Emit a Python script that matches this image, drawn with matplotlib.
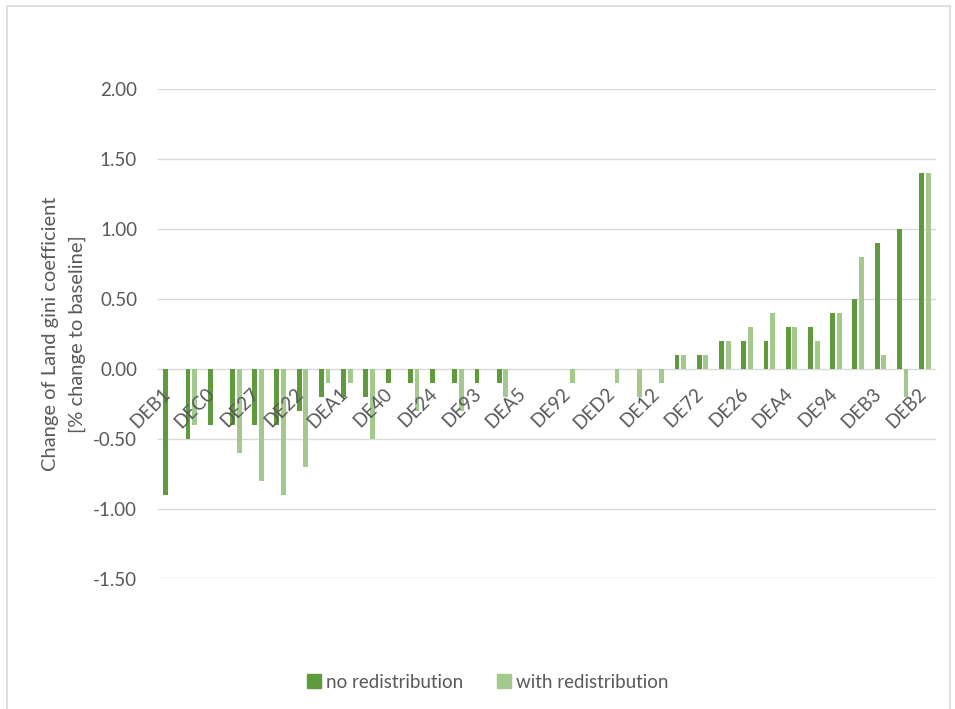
import matplotlib
matplotlib.use("Agg")
import matplotlib.pyplot as plt
from matplotlib.patches import Patch, Rectangle
import numpy as np

plt.rcParams['font.family'] = ['Lato', 'DejaVu Sans']
plt.rcParams['axes.unicode_minus'] = False

# Category labels (only every other category is labelled in the chart)
labels = ["DEB1", "", "DEC0", "", "DE27", "", "DE22", "", "DEA1", "", "DE40", "",
          "DE24", "", "DE93", "", "DEA5", "", "DE92", "", "DED2", "", "DE12", "",
          "DE72", "", "DE26", "", "DEA4", "", "DE94", "", "DEB3", "", "DEB2"]

no_redistribution = [-0.9, -0.5, -0.4, -0.4, -0.4, -0.4, -0.3, -0.2, -0.2, -0.2, -0.1, -0.1,
                     -0.1, -0.1, -0.1, -0.1, 0.0, 0.0, 0.0, 0.0, 0.0, 0.0, 0.0, 0.1,
                     0.1, 0.2, 0.2, 0.2, 0.3, 0.3, 0.4, 0.5, 0.9, 1.0, 1.4]

with_redistribution = [0.0, -0.4, 0.0, -0.6, -0.8, -0.9, -0.7, -0.1, -0.1, -0.5, 0.0, -0.3,
                       0.0, -0.3, 0.0, -0.2, 0.0, 0.0, -0.1, 0.0, -0.1, -0.2, -0.1, 0.1,
                       0.1, 0.2, 0.3, 0.4, 0.3, 0.2, 0.4, 0.8, 0.1, -0.2, 1.4]

series_names = ["no redistribution", "with redistribution"]
yticks = [-1.5, -1.0, -0.5, 0.0, 0.5, 1.0, 1.5, 2.0]

dark = "#5F9B3C"
light = "#A3C98C"
grid_c = "#D9D9D9"
text_c = "#595959"
fs = 13.5

W, H = 955, 709
fig = plt.figure(figsize=(W / 100, H / 100), dpi=100)
ax = fig.add_axes([158 / W, 1 - 579 / H, (936 - 158) / W, 490 / H])

x = np.arange(1, len(labels) + 1)
bw = 0.22
ax.bar(x - 0.15, no_redistribution, width=bw, color=dark, zorder=3)
ax.bar(x + 0.15, with_redistribution, width=bw, color=light, zorder=3)

ax.set_xlim(0.5, len(labels) + 0.5)
ax.set_ylim(min(yticks), max(yticks))
ax.set_yticks(yticks)
ax.set_yticklabels([f"{v:.2f}" for v in yticks], fontsize=fs, color=text_c)
ax.grid(axis='y', color=grid_c, linewidth=1.0, zorder=0)
for s in ax.spines.values():
    s.set_visible(False)
ax.tick_params(axis='y', length=0, pad=15)
ax.tick_params(axis='x', length=0)

ax.set_xticks([])
for xi, lab in zip(x, labels):
    if lab:
        ax.annotate(lab, xy=(xi, 0), xytext=(-5.5, -11.5), textcoords='offset points',
                    rotation=45, ha='right', va='top', rotation_mode='anchor',
                    fontsize=fs, color=text_c)

fig.text(64 / W, 1 - 334 / H,
         "Change of Land gini coefficient\n[% change to baseline]",
         rotation=90, ha='center', va='center', multialignment='center',
         fontsize=14.5, color=text_c, linespacing=1.75)

handles = [Patch(color=dark, label=series_names[0]), Patch(color=light, label=series_names[1])]
fig.legend(handles=handles, loc='center', bbox_to_anchor=(488 / W, 1 - 682 / H),
           ncol=2, frameon=False, fontsize=fs, labelcolor=text_c,
           handlelength=0.72, handleheight=0.72, handletextpad=0.3, columnspacing=1.8)

fig.patches.append(Rectangle((7 / W, -0.01), (950 - 7) / W, 1 - 6 / H + 0.01,
                             transform=fig.transFigure, fill=False,
                             edgecolor=grid_c, linewidth=1.2))

fig.savefig("out.png", dpi=100, facecolor="white")
